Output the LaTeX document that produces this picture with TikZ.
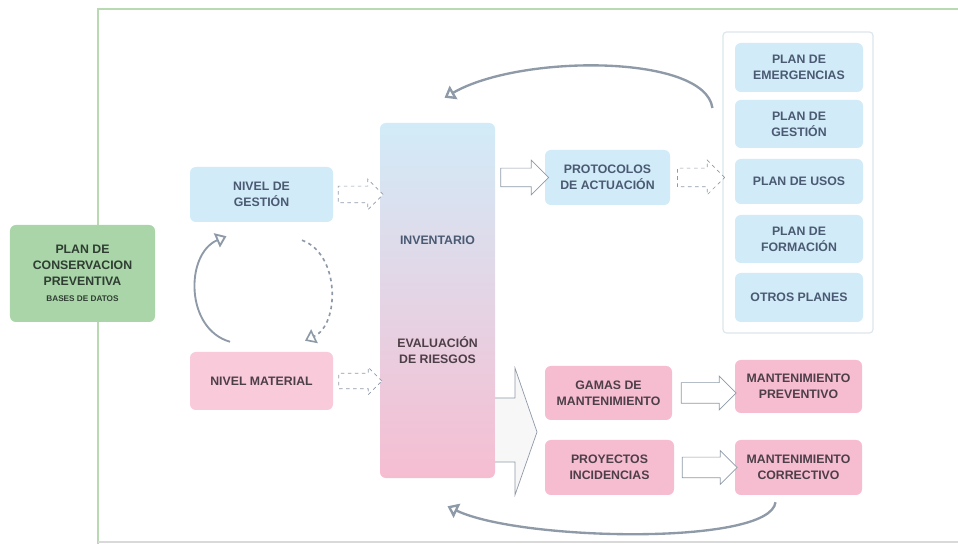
\documentclass[tikz,border=0pt]{standalone}
\usepackage{fontspec}
\setmainfont{Liberation Sans}
\usetikzlibrary{shapes.arrows,arrows.meta,calc}

\definecolor{azul}{HTML}{D2EBF8}
\definecolor{rosa}{HTML}{F6BDD1}
\definecolor{rosaclaro}{HTML}{F9CADA}
\definecolor{verde}{HTML}{A9D5A8}
\definecolor{lila}{HTML}{E4D3EC}
\definecolor{textoazul}{HTML}{4A5A72}
\definecolor{textorosa}{HTML}{4D3F48}
\definecolor{textoverde}{HTML}{2F3D32}
\definecolor{gris}{HTML}{8E9AA8}
\definecolor{marco}{HTML}{B9D9B3}
\definecolor{borde}{HTML}{DCE6EC}

\begin{document}
\begin{tikzpicture}[x=0.03cm,y=0.03cm,
	caja/.style={rounded corners=5pt, inner sep=0pt, align=center, font=\fontsize{10.5}{13.5}\selectfont\bfseries},
	cajaazul/.style={caja, fill=azul, text=textoazul},
	cajarosa/.style={caja, fill=rosa, text=textorosa},
	flecha/.style={single arrow, draw=gris, fill=white, line width=0.6pt, single arrow head extend=0.21cm, inner sep=0.24cm, minimum height=1.35cm},
	curva/.style={draw=gris, line width=2pt, -{Triangle[open,length=9pt,width=13pt]}}]

			\useasboundingbox (0,0) rectangle (958,544);
			
			% marco
			\draw[marco, line width=1pt] (958,535) -- (98,535) -- (98,0);
			\draw[gray!30, line width=1pt] (98,2) -- (958,2);
			
			\node[caja, fill=verde, text=textoverde, minimum width=4.35cm, minimum height=2.91cm] (plan) at (82.5,270.5) {PLAN DE\\CONSERVACION\\PREVENTIVA\\{\fontsize{7}{8}\selectfont BASES DE DATOS}};
			
			\node[cajaazul, minimum width=4.29cm, minimum height=1.65cm] (gestion) at (261.5,349.5) {NIVEL DE\\GESTIÓN};
			\node[caja, fill=rosaclaro, text=textorosa, minimum width=4.29cm, minimum height=1.74cm] (material) at (261.5,163) {NIVEL MATERIAL};
			
			\node[caja, top color=azul, middle color=lila, bottom color=rosa, minimum width=3.45cm, minimum height=10.65cm] (inv) at (437.5,243.5) {};
			\node[caja, text=textoazul] (invtxt) at (437.5,304) {INVENTARIO};
			\node[caja, text=textorosa] (evtxt) at (437.5,194) {EVALUACIÓN\\DE RIESGOS};
			
			\node[cajaazul, minimum width=3.75cm, minimum height=1.65cm] (proto) at (607.5,366.5) {PROTOCOLOS\\DE ACTUACIÓN};
			
			% planes
			\node[rounded corners=3pt, draw=borde, line width=1pt, fill=white, minimum width=4.5cm, minimum height=9.03cm] (cont) at (798,361.5) {};
			\node[cajaazul, minimum width=3.84cm, minimum height=1.47cm] (emerg) at (799,476.5) {PLAN DE\\EMERGENCIAS};
			\node[cajaazul, minimum width=3.84cm, minimum height=1.44cm] (pgest) at (799,420) {PLAN DE\\GESTIÓN};
			\node[cajaazul, minimum width=3.84cm, minimum height=1.35cm] (usos) at (799,362.5) {PLAN DE USOS};
			\node[cajaazul, minimum width=3.84cm, minimum height=1.44cm] (form) at (799,305) {PLAN DE\\FORMACIÓN};
			\node[cajaazul, minimum width=3.84cm, minimum height=1.47cm] (otros) at (799,246.5) {OTROS PLANES};
			
			% mantenimiento
			\node[cajarosa, minimum width=3.81cm, minimum height=1.62cm] (gamas) at (608.5,151) {GAMAS DE\\MANTENIMIENTO};
			\node[cajarosa, minimum width=3.87cm, minimum height=1.65cm] (proy) at (609.5,76.5) {PROYECTOS\\INCIDENCIAS};
			\node[cajarosa, minimum width=3.81cm, minimum height=1.59cm] (prev) at (798.5,157.5) {MANTENIMIENTO\\PREVENTIVO};
			\node[cajarosa, minimum width=3.81cm, minimum height=1.65cm] (corr) at (798.5,76.5) {MANTENIMIENTO\\CORRECTIVO};
			
			% flechas huecas
			\node[flecha, dashed] (f1) at ($(gestion.east)!0.5!(gestion.east -| inv.west)$) {};
			\node[flecha, dashed, minimum height=1.29cm, inner sep=0.22cm, single arrow head extend=0.18cm] (f2) at ($(material.east)!0.5!(material.east -| inv.west)$) {};
			\node[flecha, minimum height=1.44cm, inner sep=0.27cm, single arrow head extend=0.24cm] (f3) at ($(proto.west -| inv.east)!0.5!(proto.west)$) {};
			\node[flecha, dashed, minimum height=1.41cm, inner sep=0.27cm, single arrow head extend=0.24cm] (f4) at ($(proto.east)!0.5!(proto.east -| cont.west)$) {};
			\node[flecha, minimum height=1.65cm, inner sep=0.3cm, single arrow head extend=0.2cm] (f5) at ($(gamas.east)!0.5!(gamas.east -| prev.west)$) {};
			\node[flecha, minimum height=1.65cm, inner sep=0.3cm, single arrow head extend=0.2cm] (f6) at ($(proy.east)!0.5!(proy.east -| corr.west)$) {};
			
			\draw[gris, line width=0.6pt, fill=white!94!gray] (495,146) -- (515,146) -- (515,176) -- (537,112) -- (515,49) -- (515,82) -- (495,82);
			
			% flechas curvas
			\draw[curva] ($(cont.west)+(-10,74.5)$) .. controls (705,490) and (520,490) .. ($(inv.north)+(7,25)$);
			\draw[curva] ($(corr.south)+(-23,-7)$) .. controls (770,-2) and (520,3) .. ($(inv.south)+(10,-28)$);
			\draw[curva, line width=1.6pt] ($(material.north)+(-31.5,10)$) .. controls (185,215) and (185,290) .. ($(gestion.south)+(-35,-14)$);
			\draw[curva, line width=1.4pt, dashed] ($(gestion.south)+(40.5,-18)$) .. controls (340,290) and (340,220) .. ($(material.north)+(43.5,11)$);
		\end{tikzpicture}
\end{document}
